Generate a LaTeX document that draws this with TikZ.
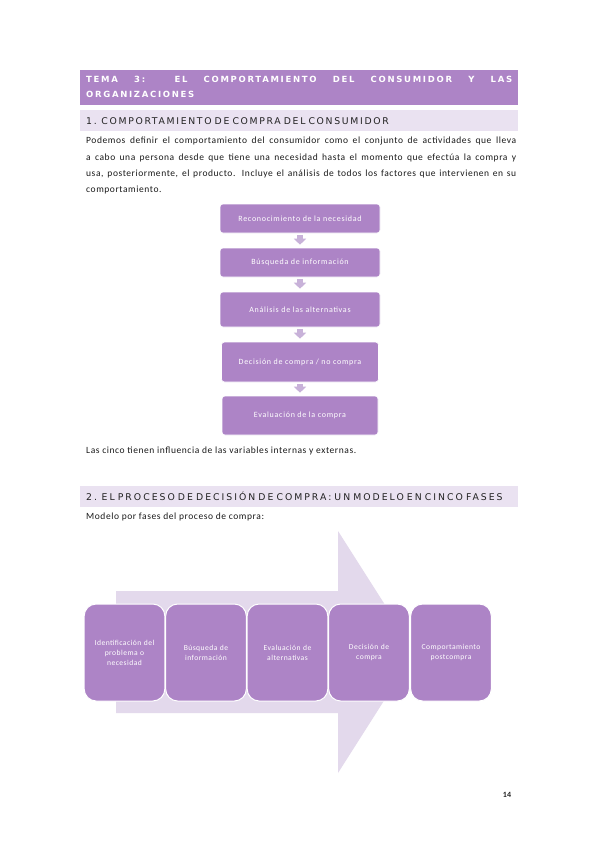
\documentclass[tikz,border=0pt]{standalone}
\usepackage{fontspec}
\setmainfont{Carlito}
\newfontfamily\titlefont[LetterSpace=20]{DejaVu Sans}
\newfontfamily\headfont[LetterSpace=18]{DejaVu Sans}
\newfontfamily\headfontwide[LetterSpace=21.5]{DejaVu Sans}
\newfontfamily\boxfont[LetterSpace=6]{Carlito}
\newfontfamily\flowfont[LetterSpace=9]{Carlito}
\newfontfamily\bodyfont[LetterSpace=6]{Carlito}
\usetikzlibrary{arrows.meta,calc}
\definecolor{purp}{HTML}{AD84C6}
\definecolor{lav}{HTML}{EAE2F1}
\definecolor{arrowbg}{HTML}{E3D9EC}
\definecolor{smallarr}{HTML}{C8B2D9}
\definecolor{txt}{HTML}{1A1A1A}
\definecolor{headtxt}{HTML}{222222}
\tikzset{
  titlebar/.style={fill=purp, minimum width=438pt, minimum height=35pt, anchor=north west, inner sep=0pt},
  secbar/.style={fill=lav, minimum width=438pt, minimum height=21pt, anchor=north west, inner xsep=6pt, inner ysep=0pt, text width=426pt, align=left, text=headtxt, font=\headfont\fontsize{9.3}{11}\selectfont},
  flowbox/.style={fill=purp, draw=white, line width=0.6pt, rounded corners=3pt, minimum width=160pt, text=white, align=center, font=\flowfont\fontsize{8}{9}\selectfont},
  fatarr/.style={draw=smallarr, line width=6pt, -{Triangle[width=12pt,length=6pt]}, shorten <=2pt, shorten >=3pt},
  phasebox/.style={fill=purp, draw=white, line width=1pt, rounded corners=12pt, minimum width=77pt, minimum height=97pt, text width=74pt, align=center, text=white, font=\boxfont\fontsize{7.6}{10}\selectfont},
  bodytext/.style={text=txt, inner sep=0pt, font=\bodyfont\fontsize{9.5}{16.3}\selectfont}
}
\begin{document}
\begin{tikzpicture}[x=1pt,y=-1pt]
\useasboundingbox[fill=white] (0,0) rectangle (599,848);

% title bar
\node[titlebar] (tbar) at (80,70) {};
\node[anchor=north west, inner sep=0pt, text width=426pt, align=justify, text=white,
      font=\titlefont\bfseries\fontsize{8.5}{14.5}\selectfont] (ttext) at (86,76)
  {TEMA 3: EL COMPORTAMIENTO DEL CONSUMIDOR Y LAS\linebreak ORGANIZACIONES};

% section 1
\node[secbar] (sec1) at (80,110) {1. COMPORTAMIENTO DE COMPRA DEL CONSUMIDOR};

\node[bodytext, anchor=north west, text width=430pt, align=justify] (para) at (86,137)
  {Podemos definir el comportamiento del consumidor como el conjunto de actividades que lleva\linebreak
   a cabo una persona desde que tiene una necesidad hasta el momento que efectúa la compra y\linebreak
   usa, posteriormente, el producto. Incluye el análisis de todos los factores que intervienen en su\linebreak
   comportamiento.};

% vertical flow
\node[flowbox, minimum height=29pt] (r1) at (300,218.5) {Reconocimiento de la necesidad};
\node[flowbox, minimum height=29pt] (r2) at (300,262.5) {Búsqueda de información};
\node[flowbox, minimum height=35pt] (r3) at (300,309.5) {Análisis de las alternativas};
\node[flowbox, minimum height=40pt, minimum width=157pt] (r4) at (300,362) {Decisión de compra / no compra};
\node[flowbox, minimum height=39pt, minimum width=156pt] (r5) at (300,415.5) {Evaluación de la compra};
\draw[fatarr] (r1) -- (r2);
\draw[fatarr] (r2) -- (r3);
\draw[fatarr] (r3) -- (r4);
\draw[fatarr] (r4) -- (r5);

\node[bodytext, anchor=west] (cinco) at (86,451) {Las cinco tienen influencia de las variables internas y externas.};

% section 2
\node[secbar, font=\headfontwide\fontsize{9.3}{11}\selectfont] (sec2) at (80,486) {2. EL PROCESO DE DECISIÓN DE COMPRA: UN MODELO EN CINCO FASES};
\node[bodytext, anchor=west] (modelo) at (86,517) {Modelo por fases del proceso de compra:};

% big arrow
\fill[arrowbg] (116,591) -- (338,591) -- (338,531) -- (415,652) -- (338,773) -- (338,713) -- (116,713) -- cycle;

% phases
\node[phasebox] (p1) at (124.5,652.5) {Identificación del\\ problema o\\ necesidad};
\node[phasebox] (p2) at (206,652.5) {Búsqueda de\\ información};
\node[phasebox] (p3) at (287.5,652.5) {Evaluación de\\ alternativas};
\node[phasebox] (p4) at (369,652.5) {Decisión de\\ compra};
\node[phasebox] (p5) at (451,652.5) {Comportamiento\\ postcompra};

% page number
\node[text=headtxt, font=\bfseries\fontsize{8}{10}\selectfont] (pg) at (507,795) {14};
\end{tikzpicture}
\end{document}
